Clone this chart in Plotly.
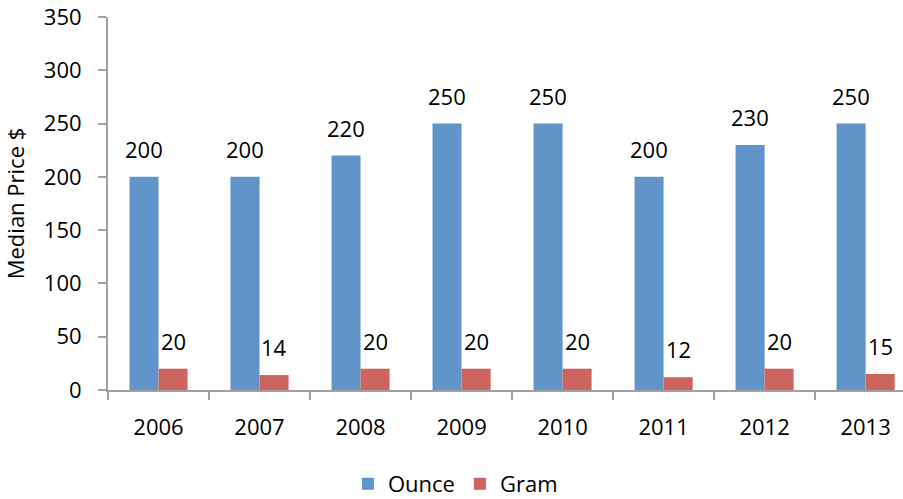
import plotly.graph_objects as go

years = ['2006', '2007', '2008', '2009', '2010', '2011', '2012', '2013']
ounce = [200, 200, 220, 250, 250, 200, 230, 250]
gram = [20, 14, 20, 20, 20, 12, 20, 15]

BLUE = '#6195c9'
RED = '#cc6560'
AXIS = '#a0a0a0'
FONT = dict(family='Open Sans, Liberation Sans, sans-serif', size=22, color='#000000')

fig = go.Figure()
fig.add_trace(go.Bar(x=years, y=ounce, name='Ounce', marker=dict(color=BLUE, line=dict(width=0))))
fig.add_trace(go.Bar(x=years, y=gram, name='Gram', marker=dict(color=RED, line=dict(width=0))))

# value labels above each bar (x as category index)
for shift, series in ((-14.5, ounce), (14.5, gram)):
    for i, v in enumerate(series):
        fig.add_annotation(x=i, y=v, xref='x', yref='y', text=str(v), showarrow=False,
                           xshift=shift, yshift=11, yanchor='bottom',
                           font=FONT)

fig.update_layout(
    width=903, height=499,
    paper_bgcolor='white', plot_bgcolor='white',
    font=FONT,
    barmode='group', bargap=0.425, bargroupgap=0,
    margin=dict(l=108, r=0, t=17, b=109, autoexpand=False),
    showlegend=True,
    legend=dict(orientation='h', x=0.437, xanchor='center', y=-0.252, yanchor='middle',
                font=FONT, traceorder='normal'),
    xaxis=dict(type='category', range=[-0.5, 7.37], showline=True, linecolor=AXIS, linewidth=2,
               ticks='outside', ticklen=8, tickcolor=AXIS, tickwidth=2,
               tickson='boundaries', ticklabelstandoff=17, showgrid=False),
    yaxis=dict(range=[0, 350], dtick=50, showline=True, linecolor=AXIS, linewidth=2,
               ticks='outside', ticklen=8, tickcolor=AXIS, tickwidth=2,
               ticklabelstandoff=12, showgrid=False, zeroline=False,
               title=dict(text='Median Price $', font=FONT, standoff=18)),
)

# drop the browser's default 8px body margin so the figure sits at the page corner
fig.write_html('out.html', config={'displayModeBar': False},
               post_script="document.body.style.margin='0';")
